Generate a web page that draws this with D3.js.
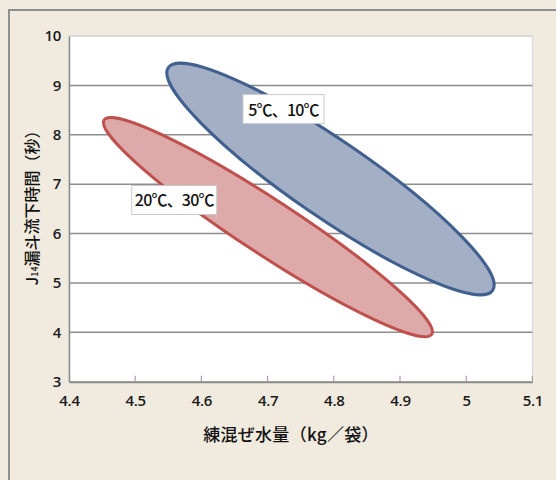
<!DOCTYPE html>
<html>
<head>
<meta charset="utf-8">
<script src="https://cdn.jsdelivr.net/npm/d3@7"></script>
<style>
  html, body { margin: 0; padding: 0; background: #f1ebdf; }
  svg { display: block; }
</style>
</head>
<body>
<svg id="chart" width="556" height="480"></svg>
<script>
// ---- data ----
const xTicks = [4.4, 4.5, 4.6, 4.7, 4.8, 4.9, 5.0, 5.1];
const xTickLabels = ["4.4", "4.5", "4.6", "4.7", "4.8", "4.9", "5", "5.1"];
const yTicks = [3, 4, 5, 6, 7, 8, 9, 10];
const yTickLabels = ["3", "4", "5", "6", "7", "8", "9", "10"];
const groupNames = ["20℃、30℃", "5℃、10℃"];
// ellipse tips (upper-left, lower-right) in data units
const tipStart = [[4.453, 8.30], [4.550, 9.36]];
const tipEnd = [[4.948, 3.96], [5.040, 4.85]];
// minor/major axis ratio
const widthRatio = [0.14, 0.195];
// label centre positions in data units
const labelPos = [[4.559, 6.69], [4.724, 8.53]];
const xTitle = "練混ぜ水量（kg／袋）";
const yTitleMain = "漏斗流下時間（秒）";

// ---- layout ----
const W = 556, H = 480;
const plot = { left: 69, right: 532.4, top: 36, bottom: 381.7 };
const svg = d3.select("#chart");

const x = d3.scaleLinear().domain([4.4, 5.1]).range([plot.left, plot.right]);
const y = d3.scaleLinear().domain([3, 10]).range([plot.bottom, plot.top]);

const fillCols = ["#dea9a9", "#a2afc5"];
const strokeCols = ["#c0504d", "#41608f"];

// frame
svg.append("rect").attr("x", 0).attr("y", 0).attr("width", W).attr("height", H).attr("fill", "#f1ebdf");
svg.append("path").attr("d", `M9,${H} L9,10 L${W},10`).attr("fill", "none")
  .attr("stroke", "#8f8f8f").attr("stroke-width", 2);

// plot area
svg.append("rect").attr("x", plot.left).attr("y", plot.top)
  .attr("width", plot.right - plot.left).attr("height", plot.bottom - plot.top)
  .attr("fill", "#ffffff").attr("stroke", "#d6d6d6").attr("stroke-width", 1);

// gridlines
svg.append("g").selectAll("line").data(yTicks.filter(d => d > 3)).join("line")
  .attr("x1", plot.left).attr("x2", plot.right)
  .attr("y1", d => y(d)).attr("y2", d => y(d))
  .attr("stroke", d => d === 10 ? "#d0d0d0" : "#8d8d8d")
  .attr("stroke-width", d => d === 10 ? 1 : 1.5);

// ellipses
const eg = svg.append("g");
groupNames.forEach((name, i) => {
  const p1 = [x(tipStart[i][0]), y(tipStart[i][1])];
  const p2 = [x(tipEnd[i][0]), y(tipEnd[i][1])];
  const cx = (p1[0] + p2[0]) / 2, cy = (p1[1] + p2[1]) / 2;
  const rx = Math.hypot(p2[0] - p1[0], p2[1] - p1[1]) / 2;
  const ang = Math.atan2(p2[1] - p1[1], p2[0] - p1[0]) * 180 / Math.PI;
  eg.append("ellipse")
    .attr("cx", 0).attr("cy", 0).attr("rx", rx).attr("ry", rx * widthRatio[i])
    .attr("transform", `translate(${cx},${cy}) rotate(${ang})`)
    .attr("fill", fillCols[i]).attr("stroke", strokeCols[i]).attr("stroke-width", 3);
});

// axes
const tickFont = "'Open Sans', sans-serif";
const xAxis = d3.axisBottom(x).tickValues(xTicks).tickSize(0)
  .tickFormat((d, i) => xTickLabels[i]).tickPadding(14);
const gx = svg.append("g").attr("transform", `translate(0,${plot.bottom})`).call(xAxis);
gx.select(".domain").attr("stroke", "#8a8a8a").attr("stroke-width", 2);
gx.selectAll(".tick text").attr("font-family", tickFont)
  .attr("font-size", 15).attr("font-weight", 600).attr("fill", "#1a1a1a")
  .attr("letter-spacing", -0.3);
// inward ticks
svg.append("g").selectAll("line").data(xTicks.slice(1)).join("line")
  .attr("x1", d => x(d)).attr("x2", d => x(d))
  .attr("y1", plot.bottom).attr("y2", plot.bottom - 6)
  .attr("stroke", "#a0a0a0").attr("stroke-width", 1.2);

const yAxis = d3.axisLeft(y).tickValues(yTicks).tickSize(0)
  .tickFormat((d, i) => yTickLabels[i]).tickPadding(8);
const gy = svg.append("g").attr("transform", `translate(${plot.left},0)`).call(yAxis);
gy.select(".domain").attr("stroke", "#8a8a8a").attr("stroke-width", 1.5);
gy.selectAll(".tick text").attr("font-family", tickFont)
  .attr("font-size", 15).attr("font-weight", 600).attr("fill", "#1a1a1a")
  .attr("letter-spacing", -0.3);

// labels with boxes
groupNames.forEach((name, i) => {
  const g = svg.append("g");
  const t = g.append("text")
    .attr("x", x(labelPos[i][0])).attr("y", y(labelPos[i][1]))
    .attr("text-anchor", "middle").attr("dominant-baseline", "central")
    .attr("font-family", "'Noto Sans CJK JP', sans-serif")
    .attr("font-size", 16).attr("font-weight", 500).attr("letter-spacing", -0.8)
    .attr("fill", "#111").text(name);
  const bb = t.node().getBBox();
  const bw = 81;
  g.insert("rect", "text")
    .attr("x", x(labelPos[i][0]) - bw / 2 - (i === 0 ? 2 : 0))
    .attr("y", y(labelPos[i][1]) - 14)
    .attr("width", bw + (i === 0 ? 4 : 0)).attr("height", 29)
    .attr("fill", "#fff").attr("stroke", "#c8c8c8").attr("stroke-width", 1);
});

// axis titles
svg.append("text").attr("x", 291).attr("y", 433)
  .attr("text-anchor", "middle").attr("dominant-baseline", "central")
  .attr("font-family", "'Noto Sans CJK JP', sans-serif")
  .attr("font-size", 17).attr("font-weight", 500).attr("letter-spacing", 0.3)
  .attr("fill", "#111").text(xTitle);

const yt = svg.append("text")
  .attr("transform", `translate(31,204) rotate(-90)`)
  .attr("text-anchor", "middle").attr("dominant-baseline", "central")
  .attr("font-family", "'Noto Sans CJK JP', sans-serif")
  .attr("font-size", 16).attr("font-weight", 500).attr("fill", "#111");
yt.append("tspan").text("J");
yt.append("tspan").attr("font-size", 9).attr("dy", 3).text("14");
yt.append("tspan").attr("dy", -3).text(yTitleMain);
</script>
</body>
</html>
